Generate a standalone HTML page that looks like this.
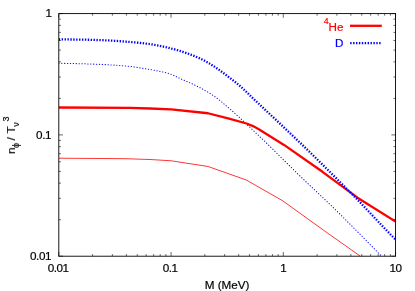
<!DOCTYPE html>
<html><head><meta charset="utf-8"><style>
html,body{margin:0;padding:0;background:#fff;}
svg{display:block;}
text{font-family:"Liberation Sans",sans-serif;font-size:11.7px;fill:#000;stroke:#000;stroke-width:0.2px;}
</style></head><body>
<svg width="415" height="291" viewBox="0 0 415 291">
<rect width="415" height="291" fill="#fff"/>
<defs><clipPath id="c"><rect x="58.8" y="13.6" width="336.75" height="242.6"/></clipPath></defs>
<g clip-path="url(#c)" fill="none">
<path d="M58.90,158.20 L125.00,158.70 L150.00,159.50 L171.30,160.80 L208.10,166.50 L246.30,180.00 L282.70,200.80 L324.50,230.90 L360.30,256.20" stroke="#ff0000" stroke-width="0.8"/>
<path d="M58.75,63.30 L60.75,63.32 L62.75,63.35 L64.75,63.38 L66.75,63.42 L68.75,63.45 L70.75,63.49 L72.75,63.53 L74.75,63.58 L76.75,63.62 L78.75,63.67 L80.75,63.72 L82.75,63.77 L84.75,63.83 L86.75,63.89 L88.75,63.95 L90.75,64.02 L92.75,64.09 L94.75,64.16 L96.75,64.24 L98.75,64.32 L100.75,64.40 L102.75,64.49 L104.75,64.59 L106.75,64.69 L108.75,64.79 L110.75,64.90 L112.75,65.02 L114.75,65.15 L116.75,65.28 L118.75,65.42 L120.75,65.58 L122.75,65.74 L124.75,65.91 L126.75,66.09 L128.75,66.28 L130.75,66.48 L132.75,66.72 L134.75,67.00 L136.75,67.31 L138.75,67.64 L140.75,67.98 L142.75,68.32 L144.75,68.66 L146.75,68.99 L148.75,69.32 L150.75,69.65 L152.75,70.00 L154.75,70.37 L156.75,70.75 L158.75,71.15 L160.75,71.55 L162.75,71.97 L164.75,72.43 L166.75,72.93 L168.75,73.49 L170.75,74.17 L172.75,74.99 L174.75,75.92 L176.75,76.91 L178.75,77.90 L180.75,78.84 L182.75,79.72 L184.75,80.58 L186.75,81.43 L188.75,82.29 L190.75,83.19 L192.75,84.13 L194.75,85.08 L196.75,86.07 L198.75,87.08 L200.75,88.13 L202.75,89.21 L204.75,90.32 L206.75,91.47 L208.75,92.66 L210.75,93.89 L212.75,95.19 L214.75,96.55 L216.75,98.02 L218.75,99.59 L220.75,101.21 L222.75,102.88 L224.75,104.57 L226.75,106.25 L228.75,107.95 L230.75,109.69 L232.75,111.45 L234.75,113.23 L236.75,115.04 L238.75,116.86 L240.75,118.71 L242.75,120.56 L244.75,122.43 L246.75,124.30 L248.75,126.17 L250.75,128.05 L252.75,129.93 L254.75,131.82 L256.75,133.72 L258.75,135.63 L260.75,137.54 L262.75,139.46 L264.75,141.38 L266.75,143.32 L268.75,145.26 L270.75,147.22 L272.75,149.19 L274.75,151.17 L276.75,153.14 L278.75,155.12 L280.75,157.10 L282.75,159.07 L284.75,161.04 L286.75,163.01 L288.75,164.98 L290.75,166.96 L292.75,168.93 L294.75,170.89 L296.75,172.85 L298.75,174.79 L300.75,176.72 L302.75,178.64 L304.75,180.54 L306.75,182.43 L308.75,184.32 L310.75,186.20 L312.75,188.08 L314.75,189.96 L316.75,191.84 L318.75,193.72 L320.75,195.62 L322.75,197.50 L324.75,199.39 L326.75,201.28 L328.75,203.18 L330.75,205.09 L332.75,207.03 L334.75,208.98 L336.75,210.95 L338.75,212.93 L340.75,214.92 L342.75,216.92 L344.75,218.93 L346.75,220.94 L348.75,222.94 L350.75,224.95 L352.75,226.96 L354.75,228.98 L356.75,230.99 L358.75,233.01 L360.75,235.03 L362.75,237.06 L364.75,239.08 L366.75,241.12 L368.75,243.15 L370.75,245.19 L372.75,247.23 L374.75,249.27 L376.75,251.32 L378.75,253.37 L380.75,255.43 L381.50,256.20" stroke="#0000ff" stroke-width="1.05" stroke-linecap="round" stroke-dasharray="0.3 2.6"/>
<path d="M58.75,107.50 L130.00,107.80 L150.00,108.50 L171.30,109.30 L208.00,113.25 L230.00,118.90 L246.50,123.50 L253.00,126.10 L258.80,129.30 L284.00,144.90 L322.50,171.80 L357.50,197.70 L396.00,221.80" stroke="#ff0000" stroke-width="2.3" stroke-linejoin="round"/>
<path d="M58.75,39.40 L60.75,39.40 L62.75,39.41 L64.75,39.42 L66.75,39.44 L68.75,39.46 L70.75,39.48 L72.75,39.50 L74.75,39.53 L76.75,39.56 L78.75,39.58 L80.75,39.61 L82.75,39.64 L84.75,39.68 L86.75,39.72 L88.75,39.77 L90.75,39.82 L92.75,39.88 L94.75,39.94 L96.75,40.00 L98.75,40.07 L100.75,40.14 L102.75,40.21 L104.75,40.29 L106.75,40.37 L108.75,40.47 L110.75,40.58 L112.75,40.70 L114.75,40.82 L116.75,40.96 L118.75,41.10 L120.75,41.25 L122.75,41.41 L124.75,41.57 L126.75,41.73 L128.75,41.90 L130.75,42.06 L132.75,42.23 L134.75,42.41 L136.75,42.59 L138.75,42.78 L140.75,42.99 L142.75,43.20 L144.75,43.43 L146.75,43.67 L148.75,43.93 L150.75,44.21 L152.75,44.51 L154.75,44.85 L156.75,45.22 L158.75,45.61 L160.75,46.02 L162.75,46.46 L164.75,46.92 L166.75,47.39 L168.75,47.88 L170.75,48.39 L172.75,48.91 L174.75,49.43 L176.75,49.98 L178.75,50.56 L180.75,51.17 L182.75,51.80 L184.75,52.47 L186.75,53.17 L188.75,53.89 L190.75,54.64 L192.75,55.41 L194.75,56.20 L196.75,57.03 L198.75,57.90 L200.75,58.83 L202.75,59.81 L204.75,60.84 L206.75,61.91 L208.75,63.05 L210.75,64.27 L212.75,65.56 L214.75,66.90 L216.75,68.27 L218.75,69.66 L220.75,71.07 L222.75,72.53 L224.75,74.03 L226.75,75.55 L228.75,77.09 L230.75,78.63 L232.75,80.16 L234.75,81.68 L236.75,83.25 L238.75,84.90 L240.75,86.64 L242.75,88.46 L244.75,90.33 L246.75,92.25 L248.75,94.18 L250.75,96.13 L252.75,98.06 L254.75,99.96 L256.75,101.84 L258.75,103.72 L260.75,105.60 L262.75,107.47 L264.75,109.35 L266.75,111.23 L268.75,113.10 L270.75,114.98 L272.75,116.86 L274.75,118.74 L276.75,120.63 L278.75,122.52 L280.75,124.41 L282.75,126.30 L284.75,128.19 L286.75,130.08 L288.75,131.98 L290.75,133.87 L292.75,135.77 L294.75,137.67 L296.75,139.57 L298.75,141.48 L300.75,143.39 L302.75,145.31 L304.75,147.24 L306.75,149.17 L308.75,151.11 L310.75,153.06 L312.75,155.01 L314.75,156.97 L316.75,158.93 L318.75,160.90 L320.75,162.87 L322.75,164.85 L324.75,166.83 L326.75,168.81 L328.75,170.80 L330.75,172.79 L332.75,174.79 L334.75,176.78 L336.75,178.78 L338.75,180.78 L340.75,182.78 L342.75,184.79 L344.75,186.79 L346.75,188.80 L348.75,190.81 L350.75,192.82 L352.75,194.84 L354.75,196.87 L356.75,198.92 L358.75,200.98 L360.75,203.07 L362.75,205.17 L364.75,207.29 L366.75,209.42 L368.75,211.55 L370.75,213.69 L372.75,215.82 L374.75,217.95 L376.75,220.08 L378.75,222.19 L380.75,224.29 L382.75,226.38 L384.75,228.46 L386.75,230.54 L388.75,232.61 L390.75,234.69 L392.75,236.75 L394.75,238.81 L396.00,240.10" stroke="#0000ff" stroke-width="2.3" stroke-dasharray="1.4 1.5"/>
</g>
<g stroke="#000" stroke-width="0.9" fill="none">
<rect x="58.8" y="13.6" width="336.75" height="242.6"/>
</g>
<g stroke="#000" stroke-width="0.6" fill="none">
<path d="M58.80,256.2 v-4.2 M58.80,13.6 v4.2"/>
<path d="M92.59,256.2 v-2.1 M92.59,13.6 v2.1"/>
<path d="M112.36,256.2 v-2.1 M112.36,13.6 v2.1"/>
<path d="M126.38,256.2 v-2.1 M126.38,13.6 v2.1"/>
<path d="M137.26,256.2 v-2.1 M137.26,13.6 v2.1"/>
<path d="M146.15,256.2 v-2.1 M146.15,13.6 v2.1"/>
<path d="M153.66,256.2 v-2.1 M153.66,13.6 v2.1"/>
<path d="M160.17,256.2 v-2.1 M160.17,13.6 v2.1"/>
<path d="M165.91,256.2 v-2.1 M165.91,13.6 v2.1"/>
<path d="M171.05,256.2 v-4.2 M171.05,13.6 v4.2"/>
<path d="M204.84,256.2 v-2.1 M204.84,13.6 v2.1"/>
<path d="M224.61,256.2 v-2.1 M224.61,13.6 v2.1"/>
<path d="M238.63,256.2 v-2.1 M238.63,13.6 v2.1"/>
<path d="M249.51,256.2 v-2.1 M249.51,13.6 v2.1"/>
<path d="M258.40,256.2 v-2.1 M258.40,13.6 v2.1"/>
<path d="M265.91,256.2 v-2.1 M265.91,13.6 v2.1"/>
<path d="M272.42,256.2 v-2.1 M272.42,13.6 v2.1"/>
<path d="M278.16,256.2 v-2.1 M278.16,13.6 v2.1"/>
<path d="M283.30,256.2 v-4.2 M283.30,13.6 v4.2"/>
<path d="M317.09,256.2 v-2.1 M317.09,13.6 v2.1"/>
<path d="M336.86,256.2 v-2.1 M336.86,13.6 v2.1"/>
<path d="M350.88,256.2 v-2.1 M350.88,13.6 v2.1"/>
<path d="M361.76,256.2 v-2.1 M361.76,13.6 v2.1"/>
<path d="M370.65,256.2 v-2.1 M370.65,13.6 v2.1"/>
<path d="M378.16,256.2 v-2.1 M378.16,13.6 v2.1"/>
<path d="M384.67,256.2 v-2.1 M384.67,13.6 v2.1"/>
<path d="M390.41,256.2 v-2.1 M390.41,13.6 v2.1"/>
<path d="M395.55,256.2 v-4.2 M395.55,13.6 v4.2"/>
<path d="M58.8,256.20 h4.2 M395.55,256.20 h-4.2"/>
<path d="M58.8,219.69 h2.1 M395.55,219.69 h-2.1"/>
<path d="M58.8,198.33 h2.1 M395.55,198.33 h-2.1"/>
<path d="M58.8,183.17 h2.1 M395.55,183.17 h-2.1"/>
<path d="M58.8,171.41 h2.1 M395.55,171.41 h-2.1"/>
<path d="M58.8,161.81 h2.1 M395.55,161.81 h-2.1"/>
<path d="M58.8,153.69 h2.1 M395.55,153.69 h-2.1"/>
<path d="M58.8,146.66 h2.1 M395.55,146.66 h-2.1"/>
<path d="M58.8,140.45 h2.1 M395.55,140.45 h-2.1"/>
<path d="M58.8,134.90 h4.2 M395.55,134.90 h-4.2"/>
<path d="M58.8,98.39 h2.1 M395.55,98.39 h-2.1"/>
<path d="M58.8,77.03 h2.1 M395.55,77.03 h-2.1"/>
<path d="M58.8,61.87 h2.1 M395.55,61.87 h-2.1"/>
<path d="M58.8,50.11 h2.1 M395.55,50.11 h-2.1"/>
<path d="M58.8,40.51 h2.1 M395.55,40.51 h-2.1"/>
<path d="M58.8,32.39 h2.1 M395.55,32.39 h-2.1"/>
<path d="M58.8,25.36 h2.1 M395.55,25.36 h-2.1"/>
<path d="M58.8,19.15 h2.1 M395.55,19.15 h-2.1"/>
<path d="M58.8,13.60 h4.2 M395.55,13.60 h-4.2"/>
</g>
<g text-anchor="end" letter-spacing="-0.45" style="will-change:transform">
<text x="51.6" y="17">1</text>
<text x="51" y="139.00">0.1</text>
<text x="51" y="260.30">0.01</text>
</g>
<g text-anchor="middle" letter-spacing="-0.45" style="will-change:transform">
<text x="58.2" y="272.0">0.01</text>
<text x="170.1" y="272.0">0.1</text>
<text x="283.3" y="272.0">1</text>
<text x="395.6" y="272.0">10</text>
</g>
<g style="will-change:transform"><text x="227.1" y="289" text-anchor="middle">M (MeV)</text></g>
<g transform="translate(15.0,153.9) rotate(-90)" style="will-change:transform">
<text x="0" y="0">n<tspan x="6.1" dy="4" font-size="8.8">ϕ</tspan><tspan x="13.4" dy="-4">/</tspan><tspan x="20.5">T</tspan><tspan x="27.3" dy="3.8" font-size="8.8">ν</tspan><tspan x="32.5" dy="-9.4" font-size="8.8">3</tspan></text>
</g>
<g text-anchor="end" style="will-change:transform">
<text x="343.5" y="30.5" style="fill:#ff0000;stroke:#ff0000"><tspan dy="-6.1" font-size="8.8">4</tspan><tspan dy="6.1">He</tspan></text>
<text x="343.5" y="46.5" style="fill:#0000ff;stroke:#0000ff">D</text>
</g>
<path d="M350,25.8 H381.8" stroke="#ff0000" stroke-width="2.3" fill="none"/>
<path d="M350.2,43.1 H380.7" stroke="#0000ff" stroke-width="2.3" stroke-dasharray="1.4 1.5" fill="none"/>
</svg>
</body></html>
